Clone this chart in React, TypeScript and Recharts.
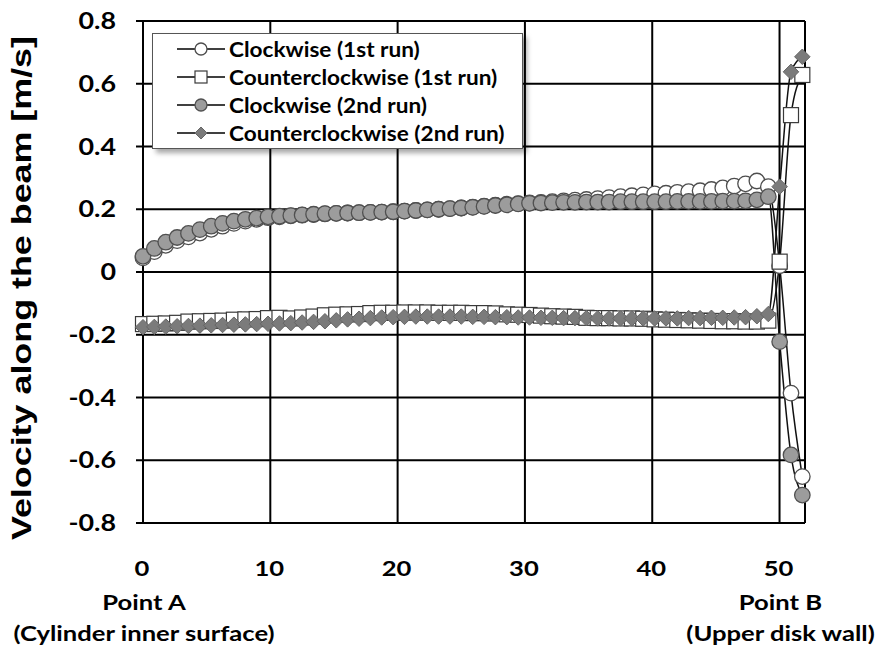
import { LineChart, Line, XAxis, YAxis, CartesianGrid, Legend, Label } from "recharts";

// distance along the beam (mm)
const POSITIONS = [
  0, 0.89, 1.79, 2.68, 3.57, 4.47, 5.36, 6.25, 7.14, 8.04,
  8.93, 9.82, 10.72, 11.61, 12.5, 13.4, 14.29, 15.18, 16.07, 16.97,
  17.86, 18.75, 19.65, 20.54, 21.43, 22.33, 23.22, 24.11, 25.0, 25.9,
  26.79, 27.68, 28.58, 29.47, 30.36, 31.26, 32.15, 33.04, 33.93, 34.83,
  35.72, 36.61, 37.51, 38.4, 39.29, 40.19, 41.08, 41.97, 42.86, 43.76,
  44.65, 45.54, 46.44, 47.33, 48.22, 49.12, 50.01, 50.9, 51.79,
];

const CW_RUN1 = [
  0.045, 0.065, 0.085, 0.1, 0.112, 0.124, 0.136, 0.146, 0.155, 0.162,
  0.168, 0.173, 0.176, 0.179, 0.181, 0.183, 0.185, 0.187, 0.188, 0.189,
  0.19, 0.191, 0.192, 0.194, 0.196, 0.198, 0.2, 0.202, 0.204, 0.207,
  0.21, 0.213, 0.216, 0.218, 0.22, 0.222, 0.224, 0.227, 0.229, 0.231,
  0.234, 0.237, 0.24, 0.243, 0.246, 0.249, 0.251, 0.254, 0.256, 0.259,
  0.263, 0.268, 0.274, 0.281, 0.29, 0.272, 0.02, -0.386, -0.652,
];

const CCW_RUN1 = [
  -0.166, -0.165, -0.164, -0.162, -0.158, -0.157, -0.156, -0.155, -0.152, -0.151,
  -0.15, -0.147, -0.146, -0.148, -0.145, -0.142, -0.138, -0.136, -0.135, -0.134,
  -0.131, -0.13, -0.13, -0.129, -0.129, -0.129, -0.13, -0.13, -0.13, -0.131,
  -0.131, -0.132, -0.135, -0.136, -0.137, -0.139, -0.141, -0.142, -0.143, -0.146,
  -0.147, -0.147, -0.148, -0.148, -0.149, -0.151, -0.152, -0.153, -0.154, -0.155,
  -0.156, -0.157, -0.157, -0.158, -0.158, -0.155, 0.033, 0.5, 0.628,
];

const CW_RUN2 = [
  0.05, 0.075, 0.095, 0.11, 0.123, 0.135, 0.146, 0.155, 0.162, 0.168,
  0.172, 0.176, 0.178, 0.18, 0.182, 0.184, 0.186, 0.187, 0.188, 0.189,
  0.19, 0.191, 0.192, 0.194, 0.196, 0.198, 0.2, 0.202, 0.204, 0.206,
  0.209, 0.212, 0.214, 0.217, 0.219, 0.22, 0.221, 0.222, 0.222, 0.223,
  0.223, 0.223, 0.224, 0.224, 0.224, 0.224, 0.224, 0.225, 0.225, 0.225,
  0.225, 0.226, 0.226, 0.227, 0.23, 0.24, -0.222, -0.583, -0.711,
];

const CCW_RUN2 = [
  -0.176, -0.175, -0.174, -0.173, -0.172, -0.171, -0.17, -0.169, -0.168, -0.167,
  -0.166, -0.165, -0.164, -0.163, -0.161, -0.159, -0.157, -0.154, -0.151, -0.149,
  -0.147, -0.145, -0.144, -0.143, -0.142, -0.142, -0.142, -0.142, -0.142, -0.143,
  -0.143, -0.144, -0.144, -0.145, -0.145, -0.146, -0.146, -0.147, -0.147, -0.147,
  -0.148, -0.148, -0.148, -0.148, -0.148, -0.148, -0.148, -0.148, -0.147, -0.147,
  -0.146, -0.146, -0.145, -0.144, -0.141, -0.134, 0.272, 0.638, 0.686,
];

const X_TICKS = [0, 10, 20, 30, 40, 50];
const Y_TICKS = [-0.8, -0.6, -0.4, -0.2, 0, 0.2, 0.4, 0.6, 0.8];
const END_LABELS: Record<number, string[]> = {
  0: ["Point A", "(Cylinder inner surface)"],
  50: ["Point B", "(Upper disk wall)"],
};

const SERIES = [
  { key: "cw1", name: "Clockwise (1st run)", shape: "circle", fill: "#ffffff", stroke: "#4d4d4d" },
  { key: "ccw1", name: "Counterclockwise (1st run)", shape: "square", fill: "#ffffff", stroke: "#3a3a3a" },
  { key: "cw2", name: "Clockwise (2nd run)", shape: "circle", fill: "#9c9c9c", stroke: "#505050" },
  { key: "ccw2", name: "Counterclockwise (2nd run)", shape: "diamond", fill: "#7b7b7b", stroke: "#666666" },
];

const data = POSITIONS.map((x, i) => ({
  x,
  cw1: CW_RUN1[i],
  ccw1: CCW_RUN1[i],
  cw2: CW_RUN2[i],
  ccw2: CCW_RUN2[i],
}));

const FONT = "Lato, 'Open Sans', sans-serif";
// the original text is a wide, bold Calibri-like face
const STRETCH = 1.22;

function Marker({ shape, cx, cy, size, fill, stroke }: any) {
  const h = size / 2;
  if (shape === "square") {
    return <rect x={cx - h} y={cy - h} width={size} height={size} fill={fill} stroke={stroke} strokeWidth={1.2} />;
  }
  if (shape === "diamond") {
    return (
      <polygon
        points={`${cx},${cy - h} ${cx + h},${cy} ${cx},${cy + h} ${cx - h},${cy}`}
        fill={fill}
        stroke={stroke}
        strokeWidth={1}
      />
    );
  }
  return <circle cx={cx} cy={cy} r={h} fill={fill} stroke={stroke} strokeWidth={1.3} />;
}

const markerSize = (shape: string) => (shape === "circle" ? 15.5 : shape === "diamond" ? 15.5 : 15);

function WideText({ x, y, anchor = "middle", size, children }: any) {
  return (
    <text
      transform={`translate(${x},${y}) scale(${STRETCH},1)`}
      textAnchor={anchor}
      fontSize={size}
      fontWeight={700}
      fontFamily={FONT}
      fill="#000"
    >
      {children}
    </text>
  );
}

const XTick = (props: any) => {
  const { x, y, payload } = props;
  const extra = END_LABELS[payload.value] || [];
  return (
    <g>
      <WideText x={x - 1} y={y + 53} size={21}>{payload.value}</WideText>
      {extra.map((t, i) => (
        <WideText key={t} x={x + 1} y={y + 87 + i * 31} size={21}>{t}</WideText>
      ))}
    </g>
  );
};

const YTick = (props: any) => {
  const { x, y, payload } = props;
  const v = payload.value;
  return (
    <WideText x={x} y={y + 8} anchor="end" size={22}>
      {v === 0 ? "0" : v.toFixed(1)}
    </WideText>
  );
};

const renderLegend = () => (
  <div
    style={{
      width: 371,
      height: 116,
      background: "#fff",
      border: "1px solid #555",
      boxShadow: "4px 4px 5px rgba(0,0,0,0.35)",
      boxSizing: "border-box",
      paddingTop: 1,
    }}
  >
    {SERIES.map((s) => (
      <div key={s.key} style={{ display: "flex", alignItems: "center", height: 28 }}>
        <svg width={74} height={20} style={{ flex: "none" }}>
          <line x1={24} y1={10} x2={72} y2={10} stroke="#000" strokeWidth={1.5} />
          <Marker shape={s.shape} cx={48} cy={10} size={12} fill={s.fill} stroke={s.stroke} />
        </svg>
        <span
          style={{
            display: "inline-block",
            fontFamily: FONT,
            fontWeight: 700,
            fontSize: 20,
            color: "#000",
            marginLeft: 2,
            whiteSpace: "nowrap",
            transform: "scaleX(1.13)",
            transformOrigin: "left center",
          }}
        >
          {s.name}
        </span>
      </div>
    ))}
  </div>
);

const renderYLabel = () => (
  <text
    transform="translate(31, 288) rotate(-90)"
    textAnchor="middle"
    fontSize={27}
    fontWeight={700}
    fontFamily="'Liberation Sans', Arial, sans-serif"
    fill="#000"
    textLength={504}
    lengthAdjust="spacingAndGlyphs"
  >
    Velocity along the beam [m/s]
  </text>
);

export default function App() {
  return (
    <div style={{ position: "absolute", left: 0, top: 0, width: 890, height: 646, background: "#fff" }}>
      <LineChart width={890} height={646} data={data} margin={{ top: 21, right: 85, bottom: 0, left: 0 }}>
        <CartesianGrid stroke="#000" strokeWidth={2} />
        <XAxis
          dataKey="x"
          type="number"
          domain={[0, 52]}
          ticks={X_TICKS}
          interval={0}
          height={123}
          axisLine={false}
          tickLine={false}
          tickSize={0}
          tickMargin={0}
          tick={<XTick />}
        />
        <YAxis
          type="number"
          domain={[-0.8, 0.8]}
          ticks={Y_TICKS}
          interval={0}
          width={143}
          axisLine={{ stroke: "#000", strokeWidth: 2 }}
          tickLine={{ stroke: "#000", strokeWidth: 2 }}
          tickSize={7}
          tickMargin={20}
          tick={<YTick />}
        >
          <Label content={renderYLabel} />
        </YAxis>
        <Legend
          layout="vertical"
          align="center"
          verticalAlign="middle"
          content={renderLegend}
          wrapperStyle={{ left: 152, top: 33, width: 375, height: 120 }}
        />
        {SERIES.map((s) => (
          <Line
            key={s.key}
            dataKey={s.key}
            name={s.name}
            type="monotone"
            stroke="#111"
            strokeWidth={1.5}
            isAnimationActive={false}
            dot={(p: any) => (
              <Marker
                key={`${s.key}-${p.index}`}
                shape={s.shape}
                cx={p.cx}
                cy={p.cy}
                size={markerSize(s.shape)}
                fill={s.fill}
                stroke={s.stroke}
              />
            )}
          />
        ))}
      </LineChart>
    </div>
  );
}
